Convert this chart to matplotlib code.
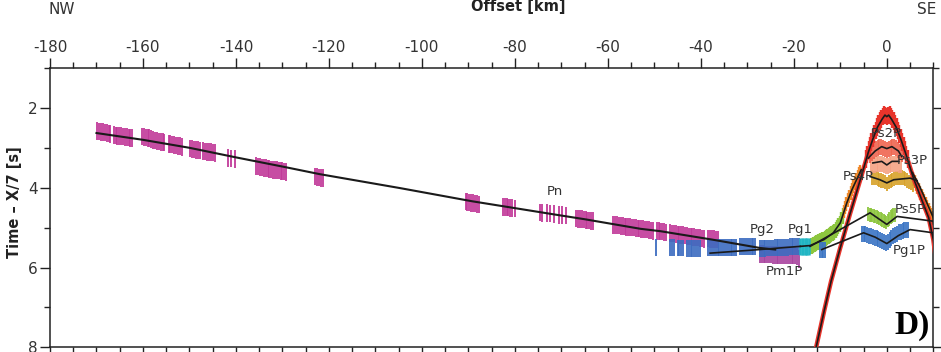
import matplotlib
matplotlib.use("Agg")
import matplotlib.pyplot as plt

plt.rcParams["axes.unicode_minus"] = False

# ---------------- picks: offset [km], reduced time [s] ----------------
# Pn (magenta)
pn_x = [-169.8, -169.4, -169.0, -168.6, -168.2, -167.8, -167.4, -167.0,
        -166.3, -165.9, -165.5, -165.1, -164.7, -164.3, -163.9, -163.5, -163.1, -162.7, -162.3,
        -160.2, -159.8, -159.4, -159.0, -158.6, -158.2, -157.8, -157.4, -157.0, -156.6, -156.2, -155.8, -155.4,
        -154.5, -154.1, -153.7, -153.3, -152.9, -152.5, -152.1, -151.7,
        -149.8, -149.4, -149.0, -148.6, -148.2, -147.8, -147.0, -146.6, -146.2, -145.8, -145.4, -145.0, -144.6,
        -141.8, -141.0, -140.2,
        -135.6, -135.2, -134.8, -134.4, -134.0, -133.6, -133.2, -132.8, -132.4, -132.0, -131.6, -131.2,
        -130.8, -130.4, -130.0, -129.6, -129.2,
        -122.9, -122.5, -122.1, -121.7, -121.3,
        -90.6, -90.2, -89.8, -89.4, -89.0, -88.6, -88.2, -87.8,
        -82.6, -82.2, -81.8, -81.4, -81.0, -80.6, -80.0,
        -74.6, -74.2, -73.2, -72.4, -71.6, -70.6, -69.8, -69.0,
        -66.8, -66.4, -66.0, -65.6, -65.2, -64.8, -64.4, -64.0, -63.6, -63.2,
        -58.8, -58.4, -58.0, -57.6, -57.2, -56.8, -56.4, -56.0, -55.6, -55.2, -54.8, -54.4,
        -54.0, -53.6, -53.2, -52.8, -52.4, -52.0, -51.6, -51.2, -50.8, -50.4,
        -49.5, -49.1, -48.7, -48.3, -47.9, -47.5,
        -46.6, -46.2, -45.8, -45.4, -45.0, -44.6, -44.2, -43.8, -43.4, -43.0, -42.6, -42.2,
        -41.8, -41.4, -41.0, -40.6, -40.2, -39.8, -39.4,
        -38.4, -38.0, -37.6, -37.2, -36.8, -36.4]
pn_t = [2.58, 2.59, 2.60, 2.61, 2.62, 2.63, 2.64, 2.65,
        2.68, 2.69, 2.70, 2.70, 2.71, 2.72, 2.73, 2.73, 2.74, 2.75, 2.76,
        2.72, 2.73, 2.74, 2.75, 2.76, 2.78, 2.80, 2.82, 2.83, 2.84, 2.85, 2.86, 2.87,
        2.90, 2.91, 2.92, 2.93, 2.94, 2.95, 2.96, 2.98,
        3.02, 3.03, 3.04, 3.05, 3.06, 3.07, 3.08, 3.09, 3.10, 3.11, 3.11, 3.12, 3.13,
        3.26, 3.27, 3.28,
        3.46, 3.47, 3.48, 3.49, 3.50, 3.51, 3.52, 3.53, 3.54, 3.55, 3.55, 3.56,
        3.57, 3.58, 3.58, 3.59, 3.60,
        3.72, 3.73, 3.74, 3.75, 3.76,
        4.35, 4.36, 4.37, 4.38, 4.39, 4.40, 4.41, 4.42,
        4.48, 4.49, 4.49, 4.50, 4.51, 4.51, 4.52,
        4.62, 4.63, 4.64, 4.65, 4.66, 4.68, 4.69, 4.70,
        4.77, 4.78, 4.79, 4.79, 4.80, 4.81, 4.82, 4.82, 4.83, 4.84,
        4.93, 4.94, 4.94, 4.95, 4.96, 4.96, 4.97, 4.98, 4.98, 4.99, 5.00, 5.00,
        5.01, 5.02, 5.02, 5.03, 5.04, 5.05, 5.05, 5.06, 5.07, 5.08,
        5.08, 5.09, 5.10, 5.10, 5.11, 5.12,
        5.14, 5.15, 5.15, 5.16, 5.17, 5.18, 5.18, 5.19, 5.20, 5.21, 5.22, 5.22,
        5.23, 5.24, 5.25, 5.25, 5.26, 5.27, 5.28,
        5.27, 5.28, 5.28, 5.29, 5.30, 5.30]

# Pm1P (magenta, below Pg2)
pm1p_x = [-27.3, -26.9, -26.5, -26.1, -25.7, -25.3, -24.9, -24.5, -24.1, -23.7, -23.3,
          -22.9, -22.5, -22.1, -21.7, -21.3, -20.9, -20.5, -20.1, -19.7, -19.3, -18.9]
pm1p_t = [5.66, 5.66, 5.66, 5.67, 5.67, 5.67, 5.67, 5.68, 5.68, 5.68, 5.68,
          5.68, 5.68, 5.68, 5.68, 5.69, 5.69, 5.69, 5.69, 5.70, 5.72, 5.78]

# Pg2 (blue)
pg2_x = [-49.6,
         -46.6, -46.2, -45.8,
         -45.0, -44.6, -44.2, -43.8,
         -43.0, -42.6, -42.2, -41.8, -41.4, -41.0, -40.6, -40.2,
         -38.4, -38.0, -37.6, -37.2, -36.8, -36.4, -36.0, -35.6, -35.2, -34.8, -34.4, -34.0,
         -33.6, -33.2, -32.8, -32.4,
         -31.5, -31.1, -30.7, -30.3, -29.9, -29.5, -29.1, -28.7, -28.3,
         -27.3, -26.9, -26.5, -26.1, -25.7, -25.3, -24.9, -24.5, -24.1, -23.7, -23.3,
         -22.9, -22.5, -22.1, -21.7, -21.3, -20.9, -20.5, -20.1, -19.7, -19.3, -18.9]
pg2_t = [5.49,
         5.50, 5.50, 5.50,
         5.51, 5.51, 5.51, 5.51,
         5.52, 5.52, 5.52, 5.52, 5.52, 5.52, 5.52, 5.52,
         5.50, 5.50, 5.50, 5.50, 5.50, 5.50, 5.50, 5.50, 5.50, 5.50, 5.50, 5.50,
         5.50, 5.50, 5.50, 5.50,
         5.48, 5.48, 5.48, 5.48, 5.48, 5.48, 5.48, 5.48, 5.48,
         5.52, 5.52, 5.52, 5.52, 5.51, 5.51, 5.51, 5.51, 5.50, 5.50, 5.50,
         5.50, 5.49, 5.49, 5.49, 5.49, 5.48, 5.48, 5.48, 5.47, 5.47, 5.47]

# Pg1 (cyan)
pg1_x = [-18.6, -18.3, -18.0, -17.7, -17.4, -17.1, -16.8]
pg1_t = [5.47, 5.47, 5.47, 5.47, 5.47, 5.47, 5.47]

# Pg1 continuation (green, rising)
grn_x = [-16.4, -16.1, -15.8, -15.5, -15.2, -14.9, -14.6, -14.3, -14.0, -13.7, -13.4, -13.1,
         -12.8, -12.5, -12.2, -11.9, -11.6, -11.3, -11.0, -10.7, -10.4, -10.1, -9.8, -9.5]
grn_t = [5.46, 5.45, 5.43, 5.41, 5.39, 5.37, 5.36, 5.34, 5.32, 5.31, 5.29, 5.26,
         5.24, 5.22, 5.19, 5.16, 5.13, 5.10, 5.05, 5.00, 4.95, 4.90, 4.82, 4.72]

# orange flanks
org_x = [-9.3, -9.0, -8.7, -8.4, -8.1, -7.8, -7.5, -7.2, -6.9, -6.6, -6.3, -6.0, -5.7,
         5.7, 6.0, 6.3, 6.6, 6.9, 7.2, 7.5, 7.8, 8.1, 8.4, 8.7, 9.0, 9.3, 9.6, 9.9]
org_t = [4.60, 4.50, 4.41, 4.31, 4.22, 4.13, 4.05, 3.96, 3.88, 3.80, 3.73, 3.66, 3.60,
         3.78, 3.85, 3.92, 3.99, 4.06, 4.13, 4.20, 4.27, 4.34, 4.41, 4.48, 4.55, 4.62, 4.69, 4.76]

# top arrival (red)
red_x = [-4.5, -4.2, -3.9, -3.6, -3.3, -3.0, -2.7, -2.4, -2.1, -1.8, -1.5, -1.2, -0.9, -0.6, -0.3,
         0.0, 0.3, 0.6, 0.9, 1.2, 1.5, 1.8, 2.1, 2.4, 2.7, 3.0, 3.3, 3.6, 3.9, 4.2, 4.5]
red_t = [3.28, 3.17, 3.06, 2.96, 2.85, 2.75, 2.66, 2.57, 2.48, 2.40, 2.33, 2.28, 2.22, 2.18, 2.19,
         2.22, 2.19, 2.18, 2.22, 2.28, 2.33, 2.40, 2.48, 2.57, 2.66, 2.75, 2.85, 2.96, 3.06, 3.17, 3.28]

# Ps2P
ps2_x = [-3.6, -3.2, -2.8, -2.4, -2.0, -1.6, -1.2, -0.8, -0.4, 0.0, 0.4, 0.8, 1.2, 1.6, 2.0, 2.4, 2.8, 3.2]
ps2_t = [3.18, 3.12, 3.07, 3.04, 3.01, 2.99, 2.98, 3.00, 3.03, 3.06, 3.03, 3.00, 2.98, 2.99, 3.01, 3.05, 3.10, 3.16]

# Ps3P
ps3_x = [-3.4, -3.0, -2.6, -2.2, -1.8, -1.4, -1.0, -0.6, -0.2, 0.2, 0.6, 1.0, 1.4, 1.8, 2.2, 2.6, 3.0]
ps3_t = [3.45, 3.43, 3.42, 3.41, 3.40, 3.40, 3.41, 3.43, 3.46, 3.46, 3.43, 3.41, 3.40, 3.40, 3.41, 3.42, 3.44]

# Ps4P
ps4_x = [-3.2, -2.8, -2.4, -2.0, -1.6, -1.2, -0.8, -0.4, 0.0, 0.4, 0.8, 1.2, 1.6, 2.0, 2.4,
         2.8, 3.2, 3.6, 4.0, 4.4, 4.8, 5.2, 5.6]
ps4_t = [3.74, 3.75, 3.76, 3.78, 3.80, 3.82, 3.84, 3.86, 3.90, 3.86, 3.83, 3.80, 3.78, 3.76, 3.75,
         3.74, 3.74, 3.76, 3.78, 3.82, 3.85, 3.88, 3.92]

# Ps5P
ps5_x = [-4.0, -3.7, -3.4, -3.1, -2.8, -2.5, -2.2, -1.9, -1.6, -1.3, -1.0, -0.7, -0.4, -0.1,
         0.2, 0.5, 0.8, 1.1, 1.4, 1.8]
ps5_t = [4.66, 4.68, 4.69, 4.70, 4.71, 4.72, 4.73, 4.75, 4.77, 4.79, 4.81, 4.83, 4.85, 4.87,
         4.82, 4.78, 4.74, 4.71, 4.69, 4.68]

# Pg1P
pg1p_x = [-14.3, -14.0, -13.7, -13.4,
          -5.4, -5.0, -4.6, -4.2, -3.8, -3.4, -3.0, -2.6, -2.2, -1.8, -1.4, -1.0, -0.6, -0.2,
          0.2, 0.6, 1.0, 1.4, 1.8, 2.2, 2.6, 3.0, 3.4, 3.8, 4.2, 4.6]
pg1p_t = [5.55, 5.55, 5.55, 5.55,
          5.17, 5.16, 5.17, 5.19, 5.20, 5.22, 5.24, 5.25, 5.27, 5.29, 5.31, 5.33, 5.35, 5.38,
          5.35, 5.30, 5.26, 5.22, 5.18, 5.15, 5.12, 5.10, 5.08, 5.07, 5.07, 5.07]

# ---------------- modelled travel-time curves ----------------
pn_line_x = [-170, -160, -150, -140, -130, -122, -104.7, -89.2, -71, -65, -53, -48.7, -37.6, -27.3, -24]
pn_line_t = [2.63, 2.80, 3.00, 3.24, 3.47, 3.66, 4.01, 4.34, 4.68, 4.79, 5.03, 5.09, 5.30, 5.51, 5.55]

pg2_line_x = [-38, -27.3, -23, -18.6]
pg2_line_t = [5.64, 5.55, 5.51, 5.47]

pg1_line_x = [-18.6, -16.5, -13.5, -11.5, -10, -9.3, -8.6, -7.5, -6.5, -5.5]
pg1_line_t = [5.47, 5.45, 5.30, 5.13, 4.88, 4.63, 4.38, 4.05, 3.80, 3.55]

org_line_x = [5.5, 7, 8.5, 10]
org_line_t = [3.62, 3.95, 4.35, 4.75]

top_line_x = [-15.3, -13.5, -12, -10, -7.9, -5.5, -4, -3, -2, -1, -0.4, 0, 0.4, 1, 2, 3, 4,
              5.7, 7.5, 9, 10, 10.5]
top_line_t = [8.05, 7.10, 6.35, 5.50, 4.65, 3.72, 3.12, 2.78, 2.48, 2.28, 2.18, 2.22, 2.18, 2.28,
              2.48, 2.78, 3.12, 3.75, 4.30, 4.75, 5.30, 5.75]

ps2_line_x = [-4, -2.5, -1.1, 0, 1.1, 2.5, 3.2]
ps2_line_t = [3.26, 3.08, 2.97, 3.02, 2.97, 3.08, 3.22]
ps3_line_x = [-3, -1.1, 0, 1.1, 2.6]
ps3_line_t = [3.38, 3.34, 3.43, 3.34, 3.34]
ps4_line_x = [-3.6, -1.5, 0, 1.5, 5, 6.5]
ps4_line_t = [3.72, 3.80, 3.88, 3.80, 3.76, 3.82]
ps5_line_x = [-16.5, -3.6, 0, 2.2, 10]
ps5_line_t = [5.47, 4.63, 4.92, 4.72, 4.84]
pg1p_line_x = [-14, -5, -2.5, 0, 2.5, 5, 10]
pg1p_line_t = [5.55, 5.13, 5.24, 5.40, 5.20, 5.05, 5.13]

# phase labels
lab_text = ["Pn", "Pg2", "Pg1", "Pm1P", "Ps2P", "Ps3P", "Ps4P", "Ps5P", "Pg1P"]
lab_x = [-71.5, -26.8, -18.6, -22.1, 0.0, 5.5, -6.1, 5.0, 4.8]
lab_t = [4.09, 5.05, 5.05, 6.09, 2.63, 3.33, 3.72, 4.55, 5.57]

# ---------------- figure ----------------
fig = plt.figure(figsize=(9.41, 3.52), dpi=100)
ax = fig.add_axes([50 / 941, 4.7 / 352, 883.3 / 941, 279.3 / 352])


def picks(x, t, err, color, lw=1.3, z=2):
    lo = [v - err for v in t]
    hi = [v + err for v in t]
    ax.vlines(x, lo, hi, colors=color, linewidth=lw, zorder=z)


picks(pn_x, pn_t, 0.22, "#c13a9a")
picks(pm1p_x, pm1p_t, 0.22, "#a9449f")
picks(pg2_x, pg2_t, 0.21, "#3d6cc0", z=3)
picks(pg1_x, pg1_t, 0.21, "#22b6c4", lw=1.8, z=3)
picks(grn_x, grn_t, 0.20, "#8dc63f", lw=1.7)
picks(org_x, org_t, 0.17, "#f0892a", lw=1.7)
picks(pg1p_x, pg1p_t, 0.20, "#3a74c4")
picks(ps5_x, ps5_t, 0.17, "#8dc63f")
picks(ps4_x, ps4_t, 0.18, "#d8a22b")
picks(ps3_x, ps3_t, 0.20, "#f4a284")
picks(ps2_x, ps2_t, 0.20, "#ef6650")
picks(red_x, red_t, 0.22, "#e8342b", lw=1.7)

# red outline along the steep branches
ax.plot(top_line_x, top_line_t, color="#e8342b", lw=3.2, zorder=3, solid_capstyle="butt")

lk = dict(color="#1a1a1a", lw=1.2, zorder=5)
ax.plot(pn_line_x, pn_line_t, lw=1.5, color="#1a1a1a", zorder=5)
ax.plot(pg2_line_x, pg2_line_t, **lk)
ax.plot(pg1_line_x, pg1_line_t, **lk)
ax.plot(org_line_x, org_line_t, **lk)
ax.plot(top_line_x, top_line_t, **lk)
ax.plot(ps2_line_x, ps2_line_t, **lk)
ax.plot(ps3_line_x, ps3_line_t, **lk)
ax.plot(ps4_line_x, ps4_line_t, **lk)
ax.plot(ps5_line_x, ps5_line_t, **lk)
ax.plot(pg1p_line_x, pg1p_line_t, **lk)

for s, x, t in zip(lab_text, lab_x, lab_t):
    ax.text(x, t, s, fontsize=9.5, color="#333333", ha="center", va="center", zorder=6)

ax.text(5.5, 7.45, "D)", fontsize=24, fontweight="bold", family="Liberation Serif",
        ha="center", va="center", color="black")

# axes
ax.set_xlim(-180, 10)
ax.set_ylim(8, 1)
ax.set_xticks(range(-180, 1, 20))
ax.set_xticks(range(-175, 11, 5), minor=True)
ax.set_yticks([2, 4, 6, 8])
ax.set_yticks([1, 3, 5, 7], minor=True)
ax.tick_params(axis="x", which="both", top=True, bottom=True, labeltop=True, labelbottom=False,
               direction="out", pad=2)
ax.tick_params(axis="y", which="both", left=True, right=True, labelleft=True, labelright=False,
               direction="out", pad=2)
ax.tick_params(which="major", length=7, width=1.0, color="#222222", labelsize=11, labelcolor="#333333")
ax.tick_params(which="minor", length=4, width=1.0, color="#222222")
for sp in ax.spines.values():
    sp.set_linewidth(1.1)
    sp.set_color("#222222")

fig.text(518 / 941, 1 - 7 / 352, "Offset [km]", fontsize=10.5, fontweight="bold",
         ha="center", va="center", color="#222222")
fig.text(62 / 941, 1 - 9 / 352, "NW", fontsize=11, ha="center", va="center", color="#333333")
fig.text(927 / 941, 1 - 10 / 352, "SE", fontsize=11, ha="center", va="center", color="#333333")
fig.text(15 / 941, 1 - 202 / 352, "Time \u2013 X/7 [s]", fontsize=10.5, fontweight="bold",
         rotation=90, ha="center", va="center", color="#222222")

fig.savefig("out.png", dpi=100)
